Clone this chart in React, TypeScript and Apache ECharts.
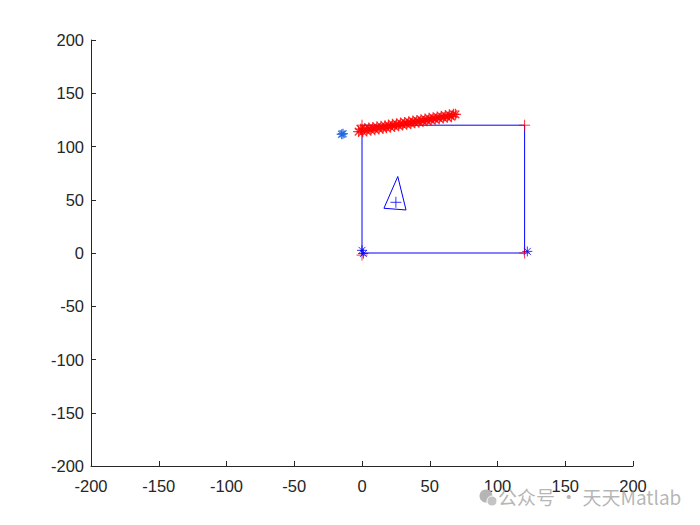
import React, { useEffect, useRef } from "react";
import * as echarts from "echarts";

const xTicks = [-200, -150, -100, -50, 0, 50, 100, 150, 200];
const yTicks = [-200, -150, -100, -50, 0, 50, 100, 150, 200];

const squarePath: [number, number][] = [[0, 0], [120, 0], [120, 120], [0, 120], [0, 0]];
const trianglePath: [number, number][] = [[26.4, 71.8], [16.2, 42], [32.5, 40.4], [26.4, 71.8]];
const centroidPlus: [number, number][] = [[25, 47.6]];
const redPlus: [number, number][] = [[0, 120], [120, 120], [0, -2], [120, 0]];
const blueStars: [number, number][] = [[0, 2.5], [1, -0.5], [122, 1.5]];
const outlierStars: [number, number][] = [[-15, 111.5], [-14, 112]];
const redTrail: [number, number][] = [
  [-2.5, 114], [-1, 116.3], [0.5, 113.8], [2, 116.8], [3.5, 114.6], [5, 117.3], [6.5, 115.2], [8, 117.9],
  [9.5, 115.8], [11, 118.5], [12.5, 116.5], [14, 119], [15.5, 116.9], [17, 119.5], [18, 117.5], [19.5, 120.1],
  [21, 118.1], [22.5, 120.8], [24, 118.8], [25.5, 121.3], [27, 119.5], [28.5, 122], [30, 120.2],
  [31.5, 122.6], [33, 120.8], [34.5, 123.3], [36, 121.5], [37.5, 123.9], [39, 122.2], [40.5, 124.5],
  [42, 122.8], [43.5, 125.2], [45, 123.5], [46.5, 125.8], [48, 124.1], [49.5, 126.5], [51, 124.8],
  [52.5, 127.1], [54, 125.5], [55.5, 127.8], [57, 126.1], [58.5, 128.4], [60, 126.8], [61.5, 129],
  [63, 127.4], [64.5, 129.7], [66, 128], [67.5, 130.3], [69, 130.2],
];

const STAR = "path://M5 0 L5 10 M0 5 L10 5 M1.5 1.5 L8.5 8.5 M1.5 8.5 L8.5 1.5";
const PLUS = "path://M5 0 L5 10 M0 5 L10 5";

function markers(name: string, data: [number, number][], symbol: string, color: string, size: number, width = 1) {
  return {
    name,
    type: "scatter",
    data,
    symbol,
    symbolSize: size,
    itemStyle: { color: "none", borderColor: color, borderWidth: width },
    z: 3,
  };
}

export default function App() {
  const ref = useRef<HTMLDivElement>(null);
  useEffect(() => {
    if (!ref.current) return;
    const chart = echarts.init(ref.current, undefined, { renderer: "svg" });
    const axisCommon = {
      type: "value",
      min: -200,
      max: 200,
      interval: 50,
      axisLine: { show: true, onZero: false, lineStyle: { color: "#262626", width: 1 } },
      axisTick: { show: true, inside: true, length: 5, lineStyle: { color: "#262626" } },
      splitLine: { show: false },
      axisLabel: { color: "#262626", fontSize: 16.5, fontFamily: "Liberation Sans, Arial, sans-serif" },
    };
    chart.setOption({
      animation: false,
      backgroundColor: "#ffffff",
      grid: { left: 91, top: 40, width: 542, height: 426, containLabel: false },
      xAxis: { ...axisCommon, axisLabel: { ...axisCommon.axisLabel, margin: 11, formatter: (v: number) => (xTicks.includes(v) ? String(v) : "") } },
      yAxis: { ...axisCommon, axisLabel: { ...axisCommon.axisLabel, margin: 7, formatter: (v: number) => (yTicks.includes(v) ? String(v) : "") } },
      series: [
        {
          name: "square",
          type: "line",
          data: squarePath,
          symbol: "none",
          lineStyle: { color: "#0000ff", width: 1 },
          z: 2,
        },
        {
          name: "triangle",
          type: "line",
          data: trianglePath,
          symbol: "none",
          lineStyle: { color: "#0000ff", width: 1 },
          z: 2,
        },
        markers("redPlus", redPlus, PLUS, "#ff0000", 11),
        markers("centroid", centroidPlus, PLUS, "#0000ff", 11),
        markers("trail", redTrail, STAR, "#ff0000", 11, 1.3),
        markers("blueStars", blueStars, STAR, "#0000ff", 10),
        markers("outlier", outlierStars, STAR, "#1560e0", 10, 1.3),
      ],
      graphic: [
        { type: "circle", shape: { cx: 486, cy: 496, r: 6.5 }, style: { fill: "#b5b5b5" }, z: 10 },
        { type: "circle", shape: { cx: 492, cy: 501, r: 5 }, style: { fill: "#c4c4c4", stroke: "#fff", lineWidth: 1 }, z: 10 },
        {
          type: "text",
          left: 498,
          top: 487,
          style: {
            text: "公众号 · 天天Matlab",
            fill: "rgba(150,150,150,0.7)",
            font: "19px 'Noto Sans CJK SC', sans-serif",
          },
          z: 10,
        },
      ],
    });
    return () => chart.dispose();
  }, []);
  return (
    <div
      ref={ref}
      style={{ position: "fixed", left: 0, top: 0, width: 700, height: 525 }}
    />
  );
}
